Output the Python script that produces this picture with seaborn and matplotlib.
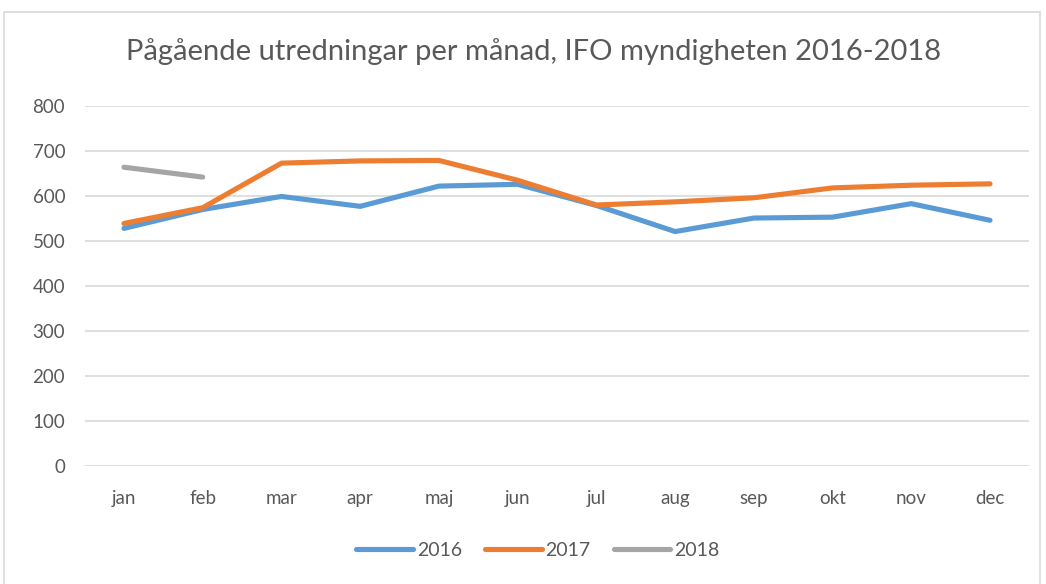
import numpy as np, pandas as pd
import matplotlib
matplotlib.use("Agg")
import matplotlib.pyplot as plt
import seaborn as sns
from matplotlib.patches import Rectangle

sns.set_style("white")
plt.rcParams['font.family'] = ['Lato', 'DejaVu Sans']

# data
months = ["jan", "feb", "mar", "apr", "maj", "jun", "jul", "aug", "sep", "okt", "nov", "dec"]
v2016 = [528, 570, 599, 577, 622, 626, 579, 521, 551, 553, 583, 546]
v2017 = [539, 574, 673, 678, 679, 635, 580, 587, 596, 618, 624, 627]
v2018 = [664, 642]
years = ["2016", "2017", "2018"]
colors = ["#5B9BD5", "#ED7D31", "#A5A5A5"]

rows = []
for yr, vals in zip(years, [v2016, v2017, v2018]):
    for i, v in enumerate(vals):
        rows.append({"pos": i, "month": months[i], "year": yr, "value": v})
df = pd.DataFrame(rows)

fig = plt.figure(figsize=(10.46, 5.84), dpi=100)
fig.patches.append(Rectangle((4/1046, -0.01), 1036/1046, 1 - 12/584 + 0.01,
                             transform=fig.transFigure, fill=False,
                             edgecolor="#d9d9d9", linewidth=1.2))
ax = fig.add_axes([84.6/1046, 118/584, 944.8/1046, 360/584])

sns.lineplot(data=df, x="pos", y="value", hue="year", palette=colors,
             linewidth=3.7, ax=ax, legend=False, solid_capstyle="round")

ax.set_xlim(-0.5, 11.5)
ax.set_ylim(0, 800)
ax.set_yticks(range(0, 801, 100))
ax.set_xticks(range(len(months)))
ax.set_xticklabels(months)
ax.grid(axis="y", color="#d9d9d9", linewidth=1.2)
ax.set_axisbelow(True)
for s in ax.spines.values():
    s.set_visible(False)
ax.tick_params(axis="both", length=0, labelsize=13.5, labelcolor="#595959")
ax.tick_params(axis="x", pad=17)
ax.tick_params(axis="y", pad=14)
ax.set_xlabel("")
ax.set_ylabel("")

fig.text(534/1046, 1 - 52/584, "Pågående utredningar per månad, IFO myndigheten 2016-2018",
         ha="center", va="center", fontsize=21, color="#595959")

handles = [plt.Line2D([], [], color=c, linewidth=3.7, solid_capstyle="round") for c in colors]
fig.legend(handles, years, loc="center", bbox_to_anchor=(538/1046, 1 - 550/584),
           ncol=3, frameon=False, fontsize=14, labelcolor="#595959",
           handlelength=2.9, handletextpad=0.2, columnspacing=1.2)

plt.savefig("out.png", dpi=100)
